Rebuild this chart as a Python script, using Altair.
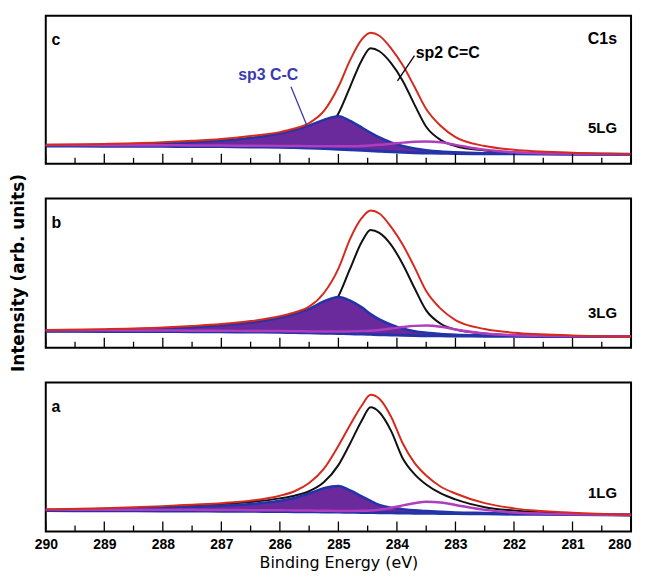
import altair as alt
import pandas as pd

ENERGY = [290, 289, 288, 287.5, 287, 286.5, 286, 285.75, 285.5, 285.25, 285.0, 284.8,
          284.6, 284.45, 284.3, 284.1, 283.9, 283.7, 283.5, 283.25, 283.0, 282.5, 282.0, 281.0, 280.0]

# Panel c (5LG)
C_BG = [0.120, 0.119, 0.118, 0.117, 0.116, 0.114, 0.112, 0.110, 0.107, 0.103, 0.099, 0.095,
        0.091, 0.088, 0.085, 0.081, 0.078, 0.075, 0.073, 0.071, 0.070, 0.068, 0.067, 0.065, 0.064]
C_SP3 = [0.122, 0.127, 0.136, 0.145, 0.157, 0.175, 0.205, 0.228, 0.258, 0.297, 0.322, 0.290,
         0.245, 0.210, 0.178, 0.145, 0.120, 0.103, 0.092, 0.083, 0.078, 0.072, 0.069, 0.066, 0.064]
C_SP2 = [0.120, 0.120, 0.120, 0.120, 0.121, 0.123, 0.128, 0.135, 0.150, 0.200, 0.340, 0.520,
         0.700, 0.780, 0.760, 0.680, 0.560, 0.400, 0.250, 0.160, 0.120, 0.090, 0.076, 0.067, 0.064]
C_MAG = [0.127, 0.126, 0.125, 0.124, 0.123, 0.122, 0.121, 0.120, 0.119, 0.118, 0.118, 0.119,
         0.121, 0.124, 0.128, 0.136, 0.143, 0.149, 0.151, 0.145, 0.128, 0.095, 0.078, 0.068, 0.064]
C_ENV = [0.128, 0.134, 0.145, 0.155, 0.168, 0.188, 0.214, 0.238, 0.275, 0.355, 0.520, 0.700,
         0.840, 0.885, 0.865, 0.780, 0.665, 0.520, 0.370, 0.255, 0.180, 0.120, 0.095, 0.075, 0.066]

# Panel b (3LG)
B_BG = [0.110, 0.109, 0.108, 0.107, 0.106, 0.105, 0.103, 0.101, 0.099, 0.097, 0.095, 0.093,
        0.091, 0.089, 0.087, 0.085, 0.083, 0.081, 0.080, 0.079, 0.078, 0.077, 0.076, 0.075, 0.074]
B_SP3 = [0.113, 0.118, 0.128, 0.137, 0.150, 0.168, 0.200, 0.225, 0.260, 0.310, 0.340, 0.315,
         0.270, 0.225, 0.190, 0.155, 0.128, 0.110, 0.100, 0.092, 0.087, 0.082, 0.079, 0.076, 0.074]
B_SP2 = [0.110, 0.110, 0.110, 0.110, 0.111, 0.113, 0.118, 0.125, 0.140, 0.200, 0.345, 0.530,
         0.710, 0.790, 0.770, 0.690, 0.560, 0.400, 0.250, 0.160, 0.122, 0.095, 0.084, 0.077, 0.074]
B_MAG = [0.117, 0.116, 0.115, 0.114, 0.113, 0.112, 0.111, 0.110, 0.109, 0.108, 0.108, 0.109,
         0.111, 0.114, 0.119, 0.128, 0.138, 0.146, 0.148, 0.140, 0.122, 0.095, 0.083, 0.077, 0.074]
B_ENV = [0.118, 0.124, 0.135, 0.145, 0.158, 0.178, 0.210, 0.236, 0.275, 0.365, 0.530, 0.730,
         0.870, 0.920, 0.900, 0.810, 0.690, 0.540, 0.380, 0.260, 0.185, 0.125, 0.100, 0.082, 0.075]

# Panel a (1LG)
A_BG = [0.140, 0.139, 0.138, 0.137, 0.136, 0.135, 0.134, 0.133, 0.132, 0.131, 0.130, 0.129,
        0.128, 0.127, 0.126, 0.125, 0.124, 0.123, 0.122, 0.121, 0.120, 0.118, 0.116, 0.113, 0.110]
A_SP3 = [0.143, 0.148, 0.158, 0.165, 0.172, 0.184, 0.206, 0.225, 0.255, 0.290, 0.305, 0.275,
         0.235, 0.205, 0.178, 0.160, 0.150, 0.142, 0.137, 0.132, 0.128, 0.124, 0.120, 0.115, 0.112]
A_SP2 = [0.143, 0.152, 0.165, 0.176, 0.184, 0.198, 0.222, 0.240, 0.270, 0.330, 0.445, 0.590,
         0.745, 0.833, 0.800, 0.675, 0.490, 0.385, 0.315, 0.255, 0.215, 0.163, 0.140, 0.118, 0.108]
A_MAG = [0.147, 0.146, 0.145, 0.145, 0.144, 0.143, 0.142, 0.141, 0.140, 0.139, 0.138, 0.138,
         0.139, 0.141, 0.146, 0.158, 0.175, 0.190, 0.200, 0.195, 0.178, 0.145, 0.128, 0.116, 0.111]
A_ENV = [0.147, 0.155, 0.170, 0.180, 0.190, 0.206, 0.240, 0.270, 0.325, 0.420, 0.575, 0.715,
         0.845, 0.917, 0.890, 0.770, 0.590, 0.460, 0.375, 0.300, 0.255, 0.190, 0.155, 0.125, 0.112]

TICK_LABELS = [290, 289, 288, 287, 286, 285, 284, 283, 282, 281, 280]
MINOR_TICKS = [289.5, 288.5, 287.5, 286.5, 285.5, 284.5, 283.5, 282.5, 281.5, 280.5]

PANEL_LETTERS = ["c", "b", "a"]
SAMPLE_LABELS = ["5LG", "3LG", "1LG"]
SAMPLE_LABEL_Y = [0.24, 0.23, 0.26]
X_TITLE = "Binding Energy (eV)"
Y_TITLE = "Intensity (arb. units)"

RED = "#d62a1e"
BLACK = "#111111"
FILL = "#6a2a9c"
BLUE = "#2334a8"
MAGENTA = "#b03cc0"
SP3_COLOR = "#3a3ab0"
LABEL_FONT = "Liberation Sans, Arial, sans-serif"
WIDE_FONT = "DejaVu Sans, Verdana, sans-serif"

W = 589
HEIGHTS = [149, 150, 150]

xs = alt.Scale(domain=[280, 290], reverse=True, nice=False, zero=False)
ys = alt.Scale(domain=[0, 1], nice=False, zero=False)


def xenc(show_axis):
    if show_axis:
        ax = alt.Axis(values=TICK_LABELS, ticks=False, tickSize=0, domain=False, grid=False,
                      labelFlush=False, labelOverlap=False, labelFont=LABEL_FONT, labelFontSize=14,
                      labelFontWeight="bold", labelColor="black", labelPadding=6,
                      labelAlign={"condition": {"test": "datum.value <= 280", "value": "right"},
                                  "value": "center"},
                      titleFont=WIDE_FONT, titleFontSize=16,
                      titleFontWeight="normal", titleColor="black", titlePadding=3, format="d")
        return alt.X("E:Q", scale=xs, axis=ax, title=X_TITLE)
    return alt.X("E:Q", scale=xs, axis=None)


def text_layer(X, E, v, t, align, size, color="black", font=LABEL_FONT):
    d = pd.DataFrame({"E": [E], "v": [v], "t": [t]})
    return (alt.Chart(d).mark_text(align=align, baseline="middle", font=font, fontSize=size,
                                   fontWeight="bold", color=color)
            .encode(x=X, y=alt.Y("v:Q", scale=ys, axis=None), text="t:N"))


def panel(idx, bg, sp3, sp2, mag, env, show_axis, with_ytitle=False, annotations=False):
    H = HEIGHTS[idx]
    df = pd.DataFrame({"E": ENERGY, "bg": bg, "sp3": sp3, "sp2": sp2, "mag": mag, "env": env})
    X = xenc(show_axis)
    base = alt.Chart(df).encode(x=X)
    layers = []
    layers.append(base.mark_line(color=BLACK, strokeWidth=2, interpolate="monotone")
                  .encode(y=alt.Y("sp2:Q", scale=ys, axis=None)))
    layers.append(base.mark_area(color=FILL, opacity=1, interpolate="monotone")
                  .encode(y=alt.Y("sp3:Q", scale=ys, axis=None), y2="bg:Q"))
    layers.append(base.mark_line(color=BLUE, strokeWidth=2.5, interpolate="monotone")
                  .encode(y=alt.Y("sp3:Q", scale=ys, axis=None)))
    layers.append(base.mark_line(color=BLUE, strokeWidth=3, interpolate="monotone")
                  .encode(y=alt.Y("bg:Q", scale=ys, axis=None)))
    layers.append(base.mark_line(color=MAGENTA, strokeWidth=2.5, interpolate="monotone")
                  .encode(y=alt.Y("mag:Q", scale=ys, axis=None)))
    layers.append(base.mark_line(color=RED, strokeWidth=2, interpolate="monotone")
                  .encode(y=alt.Y("env:Q", scale=ys, axis=None)))

    # inward ticks on the bottom edge
    major = pd.DataFrame({"E": TICK_LABELS})
    minor = pd.DataFrame({"E": MINOR_TICKS})
    layers.append(alt.Chart(major).mark_rule(color="black", strokeWidth=1.3)
                  .encode(x=X, y=alt.value(H), y2=alt.value(H - 10)))
    layers.append(alt.Chart(minor).mark_rule(color="black", strokeWidth=1.3)
                  .encode(x=X, y=alt.value(H), y2=alt.value(H - 6)))

    layers.append(text_layer(X, 289.9, 0.835, PANEL_LETTERS[idx], "left", 16))
    layers.append(text_layer(X, 280.24, SAMPLE_LABEL_Y[idx], SAMPLE_LABELS[idx], "right", 15))

    if annotations:
        layers.append(text_layer(X, 280.24, 0.845, "C1s", "right", 16))
        layers.append(text_layer(X, 283.68, 0.745, "sp2 C=C", "left", 16))
        layers.append(text_layer(X, 286.2, 0.6, "sp3 C-C", "center", 16, color=SP3_COLOR))
        p2 = pd.DataFrame({"E": [283.70], "E2": [283.99], "v": [0.73], "v2": [0.56]})
        layers.append(alt.Chart(p2).mark_rule(color="black", strokeWidth=1.3)
                      .encode(x=X, x2="E2:Q", y=alt.Y("v:Q", scale=ys, axis=None), y2="v2:Q"))
        p3 = pd.DataFrame({"E": [285.81], "E2": [285.53], "v": [0.52], "v2": [0.25]})
        layers.append(alt.Chart(p3).mark_rule(color=SP3_COLOR, strokeWidth=1.3)
                      .encode(x=X, x2="E2:Q", y=alt.Y("v:Q", scale=ys, axis=None), y2="v2:Q"))

    if with_ytitle:
        yt = pd.DataFrame({"t": [Y_TITLE]})
        layers.append(alt.Chart(yt).mark_text(angle=270, align="center", baseline="middle",
                                              font=WIDE_FONT, fontSize=17, fontWeight="bold",
                                              color="black")
                      .encode(x=alt.value(-27), y=alt.value(H / 2), text="t:N"))

    return alt.layer(*layers).properties(width=W, height=H)


pc = panel(0, C_BG, C_SP3, C_SP2, C_MAG, C_ENV, False, annotations=True)
pb = panel(1, B_BG, B_SP3, B_SP2, B_MAG, B_ENV, False, with_ytitle=True)
pa = panel(2, A_BG, A_SP3, A_SP2, A_MAG, A_ENV, True)

chart = alt.vconcat(pc, pb, pa, spacing=35, bounds="flush").properties(
    padding={"left": 0, "top": 5, "right": 0, "bottom": 0},
    background="white",
).configure_view(stroke="black", strokeWidth=2)

chart.save("out.html", embed_options={"renderer": "svg", "actions": False})
